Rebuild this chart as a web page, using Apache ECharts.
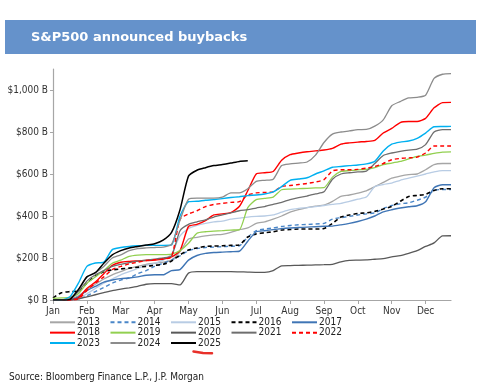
<!DOCTYPE html>
<html><head><meta charset="utf-8">
<script src="https://cdn.jsdelivr.net/npm/echarts@6/dist/echarts.min.js"></script>
<style>html,body{margin:0;padding:0;background:#fff}#c{width:483px;height:389px}</style>
</head><body><div id="c"></div>
<script>
// x positions in months (0 = Jan, 11 = Dec)
const months = [0,0.25,0.5,0.75,1,1.25,1.5,1.75,2,2.25,2.5,2.75,3,3.25,3.5,3.75,4,4.25,4.5,4.75,5,5.25,5.5,5.75,6,6.25,6.5,6.75,7,7.25,7.5,7.75,8,8.25,8.5,8.75,9,9.25,9.5,9.75,10,10.25,10.5,10.75,11,11.25,11.5,11.75];
const monthLabels = ['Jan','Feb','Mar','Apr','May','Jun','Jul','Aug','Sep','Oct','Nov','Dec'];
const monthTicks = [0,1,2,3,4,5,6,7,8,9,10,11];
const yTicks = [0,200,400,600,800,1000];

const y2013 = [0,0,5,20,50,75,100,120,135,150,160,170,175,180,190,230,290,298,305,310,313,322,335,343,365,372,385,400,418,430,440,447,452,470,493,500,509,520,540,560,580,590,597,600,620,645,650,650];
const y2014 = [0,0,0,5,20,40,60,80,95,105,125,140,160,175,190,210,235,245,250,252,254,256,258,300,330,338,343,350,355,358,360,362,365,385,392,398,405,410,415,435,450,458,463,475,490,522,526,526];
const y2015 = [0,0,0,5,30,55,80,100,120,135,150,165,175,190,220,305,340,355,365,372,376,385,390,395,398,400,405,418,430,436,440,445,450,455,460,470,480,490,540,550,557,570,580,590,600,610,616,616];
const y2016 = [10,35,40,42,80,115,135,143,148,152,156,160,165,170,185,215,238,248,255,257,258,260,262,300,315,320,325,333,336,338,338,338,340,365,395,405,412,415,422,433,446,470,493,498,503,522,530,530];
const y2017 = [0,0,2,15,45,65,85,95,102,105,110,118,120,120,140,145,190,212,222,226,228,230,232,280,325,330,335,340,343,345,347,349,351,352,358,365,374,385,400,420,430,438,444,449,468,535,549,549];
const y2018 = [0,0,0,10,55,85,125,165,180,184,186,188,190,195,205,235,350,360,378,405,410,416,445,520,600,606,612,665,692,700,706,710,714,722,742,748,752,755,760,795,817,845,850,850,865,915,940,941];
const y2019 = [8,10,12,30,80,110,140,175,190,208,214,216,216,216,218,235,270,318,325,328,330,333,334,440,478,484,490,525,528,530,532,534,535,585,612,616,620,622,630,645,652,660,672,684,690,698,704,705];
const y2020 = [0,0,0,5,15,25,35,45,52,58,65,75,78,78,78,72,128,135,135,135,135,135,134,133,132,132,140,163,164,165,166,167,168,170,182,189,190,191,194,197,205,211,222,235,255,272,305,306];
const y2021 = [0,0,5,40,90,120,140,160,170,178,185,190,195,200,210,330,360,372,382,395,405,415,425,430,438,445,455,465,478,488,495,505,515,575,600,606,610,614,650,688,700,708,714,718,740,800,811,811];
const y2022 = [0,0,0,5,45,80,110,145,160,172,180,188,192,195,205,385,410,425,445,455,460,465,468,500,510,512,515,540,545,550,555,562,573,615,620,620,622,628,635,650,668,674,677,680,700,733,733,733];
const y2023 = [0,0,15,80,160,176,180,240,250,255,258,260,260,260,262,400,468,470,475,478,483,488,492,497,500,505,515,540,570,576,582,600,615,632,636,640,643,648,660,710,742,752,757,770,795,825,826,827];
const y2024 = [0,0,8,45,110,130,160,200,215,235,245,248,250,252,265,380,480,485,485,485,490,510,510,530,565,570,575,640,648,652,657,690,750,790,800,805,811,812,828,858,925,945,962,965,975,1055,1075,1078];
const y2025 = [0,0,3,50,110,130,175,215,235,248,255,262,268,285,322,430,590,618,630,640,645,652,660,663];

const seriesDefs = [
  ['2013', y2013, '#A6A6A6', 'solid', 1.3],
  ['2014', y2014, '#4A86C8', [4,3], 1.4],
  ['2015', y2015, '#B8CCE4', 'solid', 1.3],
  ['2016', y2016, '#000000', [4,3], 1.6],
  ['2017', y2017, '#3F75B5', 'solid', 1.4],
  ['2018', y2018, '#FF0000', 'solid', 1.4],
  ['2019', y2019, '#92D050', 'solid', 1.3],
  ['2020', y2020, '#595959', 'solid', 1.3],
  ['2021', y2021, '#6E6E6E', 'solid', 1.3],
  ['2022', y2022, '#FF0000', [4,3], 1.4],
  ['2023', y2023, '#00B0F0', 'solid', 1.4],
  ['2024', y2024, '#8C8C8C', 'solid', 1.3],
  ['2025', y2025, '#000000', 'solid', 1.5]
];

const narrow = "'Liberation Sans Narrow','DejaVu Sans Condensed','Arial Narrow',sans-serif";
const chart = echarts.init(document.getElementById('c'), null, {renderer: 'canvas'});

const legendCols = [
  ['2013','2018','2023'],
  ['2014','2019','2024'],
  ['2015','2020','2025'],
  ['2016','2021'],
  ['2017','2022']
];
const legendLefts = [49, 109.5, 170, 230.5, 291];

chart.setOption({
  animation: false,
  backgroundColor: '#ffffff',
  grid: {left: 53, right: 32, top: 69, bottom: 89, containLabel: false},
  xAxis: {
    type: 'value', min: 0, max: 11.75,
    axisLine: {show: true, lineStyle: {color: '#A6A6A6', width: 1.2}},
    axisTick: {show: true, length: 4, lineStyle: {color: '#A6A6A6'}, customValues: monthTicks},
    axisLabel: {customValues: monthTicks, formatter: v => monthLabels[Math.round(v)], margin: 6,
      color: '#333', fontSize: 10, fontFamily: narrow},
    splitLine: {show: false}
  },
  yAxis: {
    type: 'value', min: 0, max: 1100,
    axisLine: {show: true, lineStyle: {color: '#A6A6A6', width: 1.2}},
    axisTick: {show: true, length: 3, lineStyle: {color: '#A6A6A6'}, customValues: yTicks},
    axisLabel: {customValues: yTicks, formatter: v => '$' + v.toLocaleString('en-US') + ' B', margin: 5,
      color: '#333', fontSize: 10, fontFamily: narrow},
    splitLine: {show: false}
  },
  legend: legendCols.map((col, i) => ({
    data: col, left: legendLefts[i], top: 317.3, orient: 'vertical', padding: 0,
    itemWidth: 25, itemHeight: 10, itemGap: 0.35,
    itemStyle: {color: 'transparent', borderWidth: 0, opacity: 0},
    textStyle: {color: '#222', fontSize: 10, lineHeight: 10, fontFamily: narrow, padding: [0, 0, 0, -3]},
    selectedMode: false
  })),
  series: seriesDefs.map(([name, vals, color, type, w]) => ({
    name, type: 'line', symbol: 'none', smooth: 0.2,
    data: vals.map((v, i) => [months[i], v]),
    lineStyle: {color, type, width: w},
    itemStyle: {color},
    emphasis: {disabled: true}
  })),
  graphic: [
    {type: 'rect', shape: {x: 5, y: 20, width: 471, height: 34}, style: {fill: '#6592CB'}, silent: true},
    {type: 'text', style: {text: 'S&P500 announced buybacks', x: 31, y: 37.5, fill: '#ffffff',
      font: 'bold 13px "DejaVu Sans", sans-serif', verticalAlign: 'middle'}, silent: true},
    {type: 'text', style: {text: 'Source: Bloomberg Finance L.P., J.P. Morgan', x: 9, y: 377, fill: '#222',
      font: '10px ' + narrow, verticalAlign: 'middle'}, silent: true},
    {type: 'polyline', shape: {points: [[193.5, 351.5], [203, 353], [212, 353.2]]},
      style: {stroke: '#E8302A', lineWidth: 2.5, lineCap: 'round', fill: null}, silent: true}
  ]
});
</script></body></html>
